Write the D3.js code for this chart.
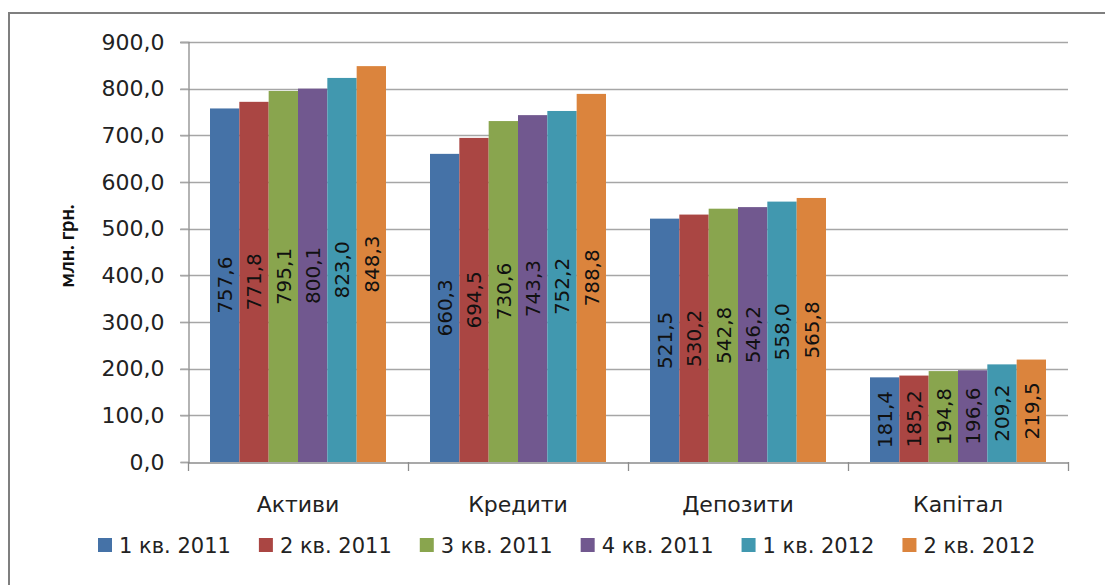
<!DOCTYPE html>
<html>
<head>
<meta charset="utf-8">
<script src="https://d3js.org/d3.v7.min.js"></script>
<style>
  body { margin: 0; background: #fff; }
  svg { display: block; }
</style>
</head>
<body>
<div id="chart"></div>
<script>
var categories = ["Активи", "Кредити", "Депозити", "Капітал"];
var seriesNames = ["1 кв. 2011", "2 кв. 2011", "3 кв. 2011", "4 кв. 2011", "1 кв. 2012", "2 кв. 2012"];
var q1_2011 = [757.6, 660.3, 521.5, 181.4];
var q2_2011 = [771.8, 694.5, 530.2, 185.2];
var q3_2011 = [795.1, 730.6, 542.8, 194.8];
var q4_2011 = [800.1, 743.3, 546.2, 196.6];
var q1_2012 = [823.0, 752.2, 558.0, 209.2];
var q2_2012 = [848.3, 788.8, 565.8, 219.5];
var seriesValues = [q1_2011, q2_2011, q3_2011, q4_2011, q1_2012, q2_2012];
var yTicks = [0, 100, 200, 300, 400, 500, 600, 700, 800, 900];
var colors = ["#4572A7", "#AA4643", "#89A54E", "#71588F", "#4198AF", "#DB843D"];

var width = 1105, height = 585;
var plotLeft = 188, plotRight = 1068, plotTop = 42, plotBottom = 462;
var font = "'DejaVu Sans', sans-serif";
var textColor = "#222";

var svg = d3.select("#chart").append("svg")
  .attr("width", width)
  .attr("height", height)
  .attr("font-family", font);

// outer frame
svg.append("rect")
  .attr("x", 9).attr("y", 13)
  .attr("width", 1120).attr("height", 600)
  .attr("fill", "none")
  .attr("stroke", "#7f7f7f")
  .attr("stroke-width", 2);

var y = d3.scaleLinear().domain([0, 900]).range([plotBottom, plotTop]);
var x0 = d3.scaleBand().domain(categories).range([plotLeft, plotRight]).paddingInner(0).paddingOuter(0);
var x1 = d3.scaleBand().domain(d3.range(seriesNames.length))
  .range([0, x0.bandwidth()]).paddingOuter(0.75).paddingInner(0);

// gridlines
svg.append("g").selectAll("line").data(yTicks.slice(1)).enter().append("line")
  .attr("x1", plotLeft - 8).attr("x2", plotRight)
  .attr("y1", function(d) { return Math.round(y(d)) + 0.5; })
  .attr("y2", function(d) { return Math.round(y(d)) + 0.5; })
  .attr("stroke", "#a6a6a6").attr("stroke-width", 1.3);

// y axis
var yAxis = d3.axisLeft(y).tickValues(yTicks).tickSize(8).tickPadding(16)
  .tickFormat(function(d) { return d3.format(".1f")(d).replace(".", ","); });
var gy = svg.append("g").attr("transform", "translate(" + (plotLeft + 0.5) + ",0)").call(yAxis);
gy.select(".domain").attr("stroke", "#8c8c8c").attr("stroke-width", 1.3);
gy.selectAll(".tick line").attr("stroke", "#a6a6a6").attr("stroke-width", 1.3);
gy.selectAll("text").attr("font-size", 22).attr("fill", textColor).attr("font-family", font);

// bars
var groups = svg.append("g").selectAll("g").data(categories).enter().append("g")
  .attr("transform", function(d) { return "translate(" + x0(d) + ",0)"; });

groups.selectAll("rect").data(function(d, i) {
    return seriesValues.map(function(s, k) { return { k: k, v: s[i] }; });
  }).enter().append("rect")
  .attr("x", function(d) { return x1(d.k); })
  .attr("width", x1.bandwidth())
  .attr("y", function(d) { return y(d.v); })
  .attr("height", function(d) { return plotBottom - y(d.v); })
  .attr("fill", function(d) { return colors[d.k]; });

groups.selectAll("text").data(function(d, i) {
    return seriesValues.map(function(s, k) { return { k: k, v: s[i] }; });
  }).enter().append("text")
  .attr("transform", function(d) {
    var cx = x1(d.k) + x1.bandwidth() / 2;
    var cy = y(d.v / 2);
    return "translate(" + cx + "," + cy + ") rotate(-90)";
  })
  .attr("text-anchor", "middle")
  .attr("dy", "0.36em")
  .attr("font-size", 20)
  .attr("fill", "#111")
  .text(function(d) { return d3.format(".1f")(d.v).replace(".", ","); });

// x axis
var xAxis = d3.axisBottom(x0).tickSize(0).tickPadding(34);
var gx = svg.append("g").attr("transform", "translate(0," + (plotBottom + 0.5) + ")").call(xAxis);
gx.select(".domain").attr("stroke", "#8c8c8c").attr("stroke-width", 1.3);
gx.selectAll("text").attr("font-size", 22).attr("fill", textColor).attr("font-family", font);
svg.append("g").selectAll("line").data(d3.range(categories.length + 1)).enter().append("line")
  .attr("x1", function(i) { return plotLeft + i * x0.bandwidth() + 0.5; })
  .attr("x2", function(i) { return plotLeft + i * x0.bandwidth() + 0.5; })
  .attr("y1", plotBottom).attr("y2", plotBottom + 9)
  .attr("stroke", "#8c8c8c").attr("stroke-width", 1.3);

// y title
svg.append("text")
  .attr("transform", "translate(74," + ((plotTop + plotBottom) / 2 - 6) + ") rotate(-90)")
  .attr("text-anchor", "middle")
  .attr("font-family", "Lato, sans-serif")
  .attr("font-size", 20)
  .attr("font-weight", "bold")
  .attr("fill", "#111")
  .text("млн. грн.");

// legend
var legend = svg.append("g").attr("transform", "translate(98,538)");
var lx = 0;
seriesNames.forEach(function(name, i) {
  var item = legend.append("g").attr("transform", "translate(" + lx + ",0)");
  item.append("rect")
    .attr("width", 14).attr("height", 14)
    .attr("fill", colors[i]);
  var t = item.append("text")
    .attr("x", 21).attr("y", 7).attr("dy", "0.36em")
    .attr("font-size", 21)
    .attr("fill", textColor)
    .text(name);
  lx += 21 + t.node().getComputedTextLength() + 28;
});
</script>
</body>
</html>
